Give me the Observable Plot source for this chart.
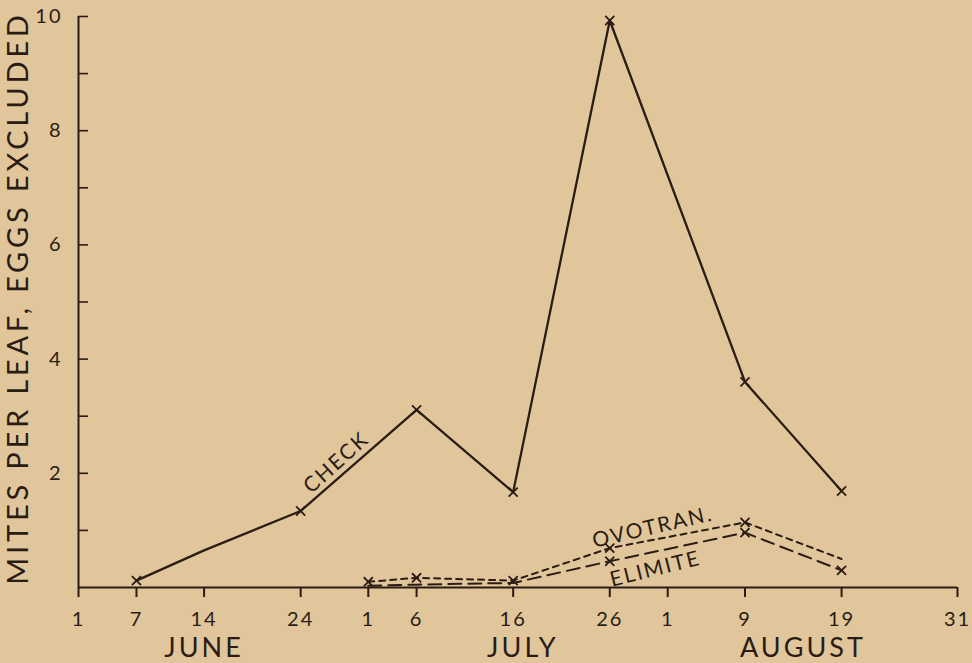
<!DOCTYPE html>
<html><head><meta charset="utf-8">
<script src="https://cdn.jsdelivr.net/npm/d3@7"></script>
<script src="https://cdn.jsdelivr.net/npm/@observablehq/plot@0.6"></script>
<style>
html,body{margin:0;padding:0;background:#e0c69a;}
#chart svg{display:block;}
</style></head><body><div id="chart"></div>
<script>
// ---- data ----
const checkDates = ["06-07","06-14","06-24","07-06","07-16","07-26","08-09","08-19"];
const checkValues = [0.12, 0.65, 1.34, 3.11, 1.67, 9.93, 3.6, 1.69];
const checkUnmarked = ["06-14"];

const ovotranDates = ["07-01","07-06","07-16","07-26","08-09","08-19"];
const ovotranValues = [0.1, 0.17, 0.12, 0.69, 1.14, 0.5];
const ovotranUnmarked = ["08-19"];

const elimiteDates = ["07-01","07-06","07-16","07-26","08-09","08-19"];
const elimiteValues = [0.03, 0.05, 0.08, 0.46, 0.96, 0.3];
const elimiteUnmarked = ["07-01","07-06","07-16"];

const xTickDates = ["06-01","06-07","06-14","06-24","07-01","07-06","07-16","07-26","08-01","08-09","08-19","08-31"];
const monthLabelDates = ["06-14","07-17","08-15"];
const monthNames = ["JUNE","JULY","AUGUST"];
const yTicksAll = [1,2,3,4,5,6,7,8,9,10];
const yTickLabels = [2,4,6,8,10];
const xDomain = ["06-01","08-31"];
const yDomain = [0, 10];
const yTitle = "MITES PER LEAF, EGGS EXCLUDED";

// ---- build ----
const parse = s => new Date(Date.UTC(1937, +s.slice(0,2) - 1, +s.slice(3)));
const series = (name, dates, values, unmarked) =>
  dates.map((d, i) => ({name, key: d, date: parse(d), value: values[i], marked: !unmarked.includes(d)}));
const check = series("CHECK", checkDates, checkValues, checkUnmarked);
const ovotran = series("OVOTRAN", ovotranDates, ovotranValues, ovotranUnmarked);
const elimite = series("ELIMITE", elimiteDates, elimiteValues, elimiteUnmarked);
const ink = "#2a1c14";
const font = "Lato, 'Open Sans', sans-serif";

// label anchor: point a fraction along a segment of a series
function along(s, i, f) {
  const a = s[i], b = s[i + 1];
  return [{date: new Date(+a.date + f * (b.date - a.date)), value: a.value + f * (b.value - a.value)}];
}
const seriesLabel = (anchor, text, rotate, dx, dy) =>
  Plot.text(anchor, {x: "date", y: "value", text: () => text, rotate, dx, dy,
    fontSize: 21, fill: ink, fontFamily: font});

const chart = Plot.plot({
  width: 972, height: 663,
  marginLeft: 78, marginRight: 15, marginTop: 16, marginBottom: 76,
  style: {background: "transparent", color: ink, fontFamily: font, fontSize: "19px"},
  x: {type: "utc", domain: xDomain.map(parse)},
  y: {domain: yDomain},
  marks: [
    Plot.ruleY([yDomain[0]], {stroke: ink, strokeWidth: 2}),
    Plot.ruleX([parse(xDomain[0])], {stroke: ink, strokeWidth: 2}),
    Plot.axisX({ticks: xTickDates.map(parse), tickFormat: d => d.getUTCDate(), tickSize: 10, tickPadding: 14,
      strokeWidth: 2, fontSize: 20, label: null}),
    Plot.axisX({ticks: monthLabelDates.map(parse), tickFormat: (d, i) => monthNames[i], tickSize: 0, tickPadding: 50,
      fontSize: 27, label: null}),
    Plot.axisY({ticks: yTicksAll, tickSize: 10, dx: 10, text: null, strokeWidth: 1.6, label: null}),
    Plot.axisY({ticks: yTickLabels, tickSize: 0, tickPadding: 16, fontSize: 20, label: null}),
    Plot.text([yTitle], {text: d => d, frameAnchor: "left", textAnchor: "middle", rotate: -90, dx: -60, dy: -4,
      fontSize: 29, fill: ink, fontFamily: font}),
    Plot.line(check, {x: "date", y: "value", stroke: ink, strokeWidth: 2.3}),
    Plot.line(ovotran, {x: "date", y: "value", stroke: ink, strokeWidth: 2, strokeDasharray: "6,5"}),
    Plot.line(elimite, {x: "date", y: "value", stroke: ink, strokeWidth: 2, strokeDasharray: "13,7"}),
    Plot.dot([...check, ...ovotran, ...elimite].filter(d => d.marked),
      {x: "date", y: "value", symbol: "times", r: 4.2, stroke: ink, strokeWidth: 1.8}),
    seriesLabel(along(check, 2, 0.3), "CHECK", -42, 1, -18),
    seriesLabel(along(ovotran, 3, 0.34), "OVOTRAN.", -13, -3, -12),
    seriesLabel(along(elimite, 3, 0.36), "ELIMITE", -14, -3, 18)
  ]
});
// letter spacing to mimic the wide lettering of the original
const sel = d3.select(chart);
sel.selectAll("text").each(function() {
  const t = this.textContent;
  if (t === yTitle) this.style.letterSpacing = "3.8px";
  else if (monthNames.includes(t)) this.style.letterSpacing = "3px";
  else if (/^\d+$/.test(t)) this.style.letterSpacing = "2px";
  else if (["CHECK","OVOTRAN.","ELIMITE"].includes(t)) this.style.letterSpacing = "2px";
});
document.getElementById("chart").append(chart);
</script>
</body></html>
